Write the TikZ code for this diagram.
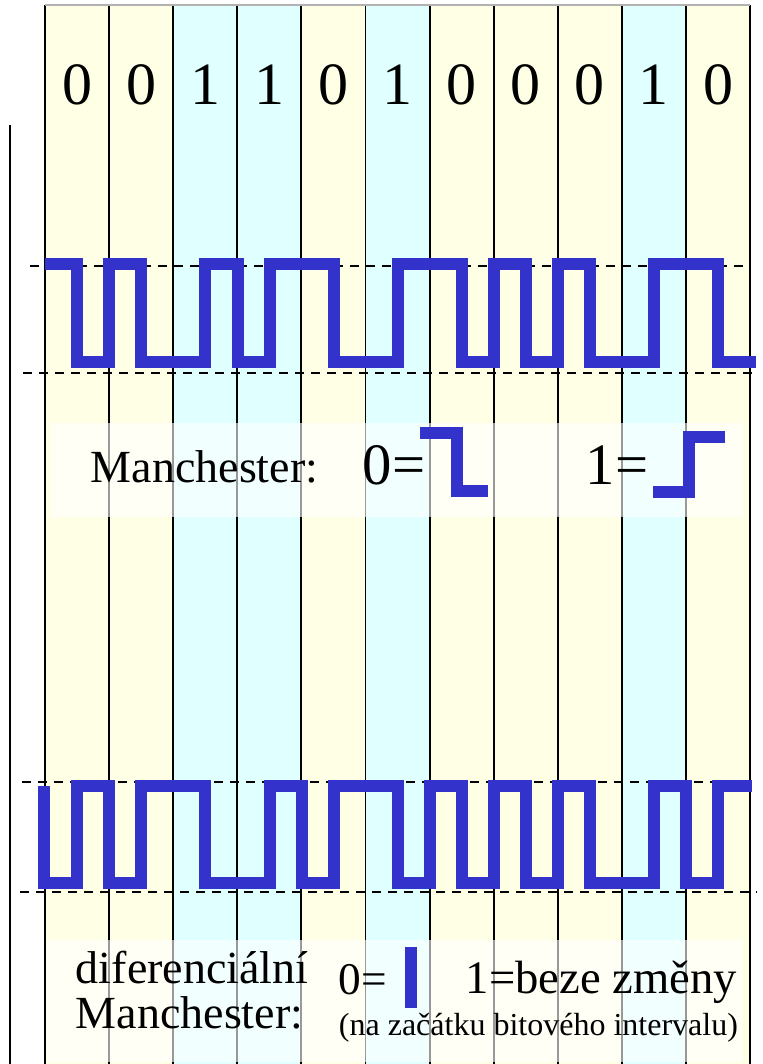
\documentclass[tikz,border=0pt]{standalone}
\usepackage{fontspec}
\setmainfont{Liberation Serif}
\definecolor{nulcol}{RGB}{255,255,230}
\definecolor{jedcol}{RGB}{224,255,255}
\definecolor{sig}{RGB}{51,51,204}
\begin{document}
\begin{tikzpicture}[x=0.75pt,y=-0.75pt,line width=1.4pt,
      signal/.style={draw=sig,line width=9pt},
      hranice/.style={dashed,dash pattern=on 7pt off 5pt},
      bit/.style={anchor=base,font=\fontsize{45}{54}\selectfont},
      mytext/.style={anchor=base west,inner sep=0pt,font=\fontsize{34.5}{40}\selectfont}]
    \useasboundingbox (0,0) rectangle (763,1064);
    % bit columns
    \foreach \b [count=\i from 0] in {0,0,1,1,0,1,0,0,0,1,0} {
      \ifnum\b=0 \def\c{nulcol}\else\def\c{jedcol}\fi
      \fill[\c] (45+64.1*\i,5) rectangle (45+64.1*\i+64.1,1064);
      \node[bit] at (77+64.1*\i,104) (B\i) {\b};
    }
    \foreach \i in {0,...,11}
      \draw (45+64.1*\i,5) -- (45+64.1*\i,1064);
    \draw[gray!60] (45,5) -- (750,5);
    \draw (10,125) -- (10,1064);
    % Manchester
    \draw[hranice,line width=0.9pt] (30,266) -- (750,266);
    \draw[hranice] (23,373) -- (756,373);
    \draw[signal] (45,264) -- (77,264) -- (77,362) -- (109,362) -- (109,264) -- (141,264)
      -- (141,362) -- (205,362) -- (205,264) -- (238,264) -- (238,362) -- (270,362)
      -- (270,264) -- (334,264) -- (334,362) -- (398,362) -- (398,264) -- (462,264)
      -- (462,362) -- (494,362) -- (494,264) -- (526,264) -- (526,362) -- (558,362)
      -- (558,264) -- (590,264) -- (590,362) -- (654,362) -- (654,264) -- (718,264)
      -- (718,362) -- (756,362);
    \fill[white,opacity=0.6] (51,423) rectangle (743,517);
    \node[mytext] at (90,482) (M1) {Manchester:};
    \node[mytext,font=\fontsize{44}{50}\selectfont] at (362,484) (M0) {0=};
    \draw[signal] (420,433) -- (457,433) -- (457,491) -- (488,491);
    \node[mytext,font=\fontsize{44}{50}\selectfont] at (585,484) (M2) {1=};
    \draw[signal] (653,492) -- (689,492) -- (689,437) -- (725,437);
    % diferencialni Manchester
    \draw[hranice] (22,782) -- (757,782);
    \draw[hranice] (20,892) -- (757,892);
    \draw[signal] (44,786) -- (44,883) -- (77,883) -- (77,786) -- (109,786) -- (109,883)
      -- (141,883) -- (141,786) -- (205,786) -- (205,883) -- (270,883) -- (270,786)
      -- (302,786) -- (302,883) -- (334,883) -- (334,786) -- (398,786) -- (398,883)
      -- (430,883) -- (430,786) -- (462,786) -- (462,883) -- (494,883) -- (494,786)
      -- (526,786) -- (526,883) -- (558,883) -- (558,786) -- (590,786) -- (590,883)
      -- (654,883) -- (654,786) -- (686,786) -- (686,883) -- (718,883) -- (718,786)
      -- (752,786);
    \fill[white,opacity=0.6] (47,940) rectangle (742,1062);
    \node[mytext] at (75,983) (D1) {diferenciální};
    \node[mytext] at (75,1028) (D2) {Manchester:};
    \node[mytext,font=\fontsize{34}{40}\selectfont] at (338,994) (D0) {0=};
    \draw[signal] (411,947) -- (411,1008);
    \node[mytext,font=\fontsize{35}{40}\selectfont] at (465,993) (D3) {1=beze změny};
    \node[mytext,font=\fontsize{24}{28}\selectfont] at (338,1035) (D4) {(na začátku bitového intervalu)};
  \end{tikzpicture}
\end{document}
